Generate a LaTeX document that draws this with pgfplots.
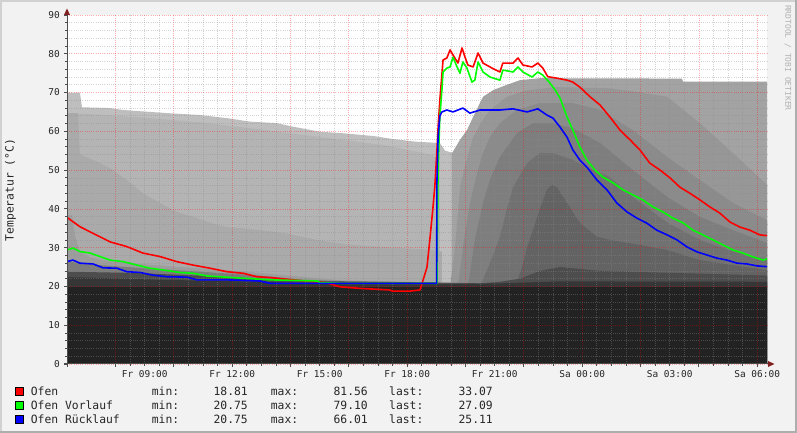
\documentclass[border=0pt]{standalone}
\usepackage{pgfplots}
\pgfplotsset{compat=1.18}
\usepackage{fontspec}
\setmainfont{DejaVu Sans Mono}

\definecolor{bgc}{HTML}{F2F2F2}
\definecolor{cA}{HTML}{BEBEBE}
\definecolor{cB}{HTML}{B4B4B4}
\definecolor{cC}{HTML}{AAAAAA}
\definecolor{cD}{HTML}{9D9D9D}
\definecolor{cD2}{HTML}{7D7D7D}
\definecolor{cE}{HTML}{4D4D4D}
\definecolor{cF}{HTML}{363636}
\definecolor{cG}{HTML}{222222}
\definecolor{r1}{HTML}{A3A3A3}
\definecolor{r2}{HTML}{979797}
\definecolor{r3}{HTML}{8B8B8B}
\definecolor{r4}{HTML}{7E7E7E}
\definecolor{r5}{HTML}{717171}
\definecolor{r6}{HTML}{636363}
\definecolor{arr}{HTML}{802020}
\definecolor{ofen}{HTML}{FF0000}
\definecolor{vorlauf}{HTML}{00FF00}
\definecolor{ruecklauf}{HTML}{0000FF}

\newcommand\tickfont{\fontsize{9.5}{11}\selectfont}
\newcommand\legfont{\fontsize{11.4}{13}\selectfont}
\newcommand\wmfont{\fontsize{8}{9}\selectfont}

\pgfplotsset{
  rrdframe/.style={
    at={(67bp,69bp)}, anchor=south west,
    scale only axis, width=700bp, height=349bp,
    xmin=6.337, xmax=30.337, ymin=0, ymax=90,
  },
}

\begin{document}
\begin{tikzpicture}
\begin{scope}[x=1bp,y=1bp]
\fill[bgc] (0,0) rectangle (797,433);
\useasboundingbox (0,0) rectangle (797,433);
\draw[line width=2bp, draw=black!18] (1,0) -- (1,432) -- (797,432);
\draw[line width=2bp, draw=black!32] (0,1) -- (796,1) -- (796,433);
\end{scope}

% areas, with the grid drawn over them
\begin{axis}[
    rrdframe,
    axis background/.style={fill=white},
    axis line style={draw=none},
    axis on top,
    tick pos=left, tick align=outside,
    major tick length=3bp, minor tick length=2bp,
    major tick style={line width=0.8bp, draw=black!70},
    minor tick style={line width=0.8bp, draw=black!70},
    xtick={8,10,...,30}, xticklabels={}, minor x tick num=3,
    extra x ticks={9,12,...,30},
    extra x tick labels={Fr 09:00,Fr 12:00,Fr 15:00,Fr 18:00,Fr 21:00,Sa 00:00,Sa 03:00,Sa 06:00},
    extra x tick style={grid=none, major tick length=0bp},
    ytick={0,10,...,90}, minor y tick num=4,
    grid=both,
    grid style={line width=0.7bp, dash pattern=on 1bp off 1.2bp},
    major grid style={draw=red, opacity=0.32},
    minor grid style={draw=black!45, opacity=0.38},
    /pgf/number format/assume math mode=true,
    tick label style={font=\tickfont, text=black!85},
    xticklabel style={anchor=north, inner sep=0pt, yshift=-6bp},
    yticklabel style={anchor=east, inner sep=0pt, xshift=-4bp},
]
\addplot[fill=cA, draw=none] coordinates {(6.34,70) (6.78,70) (6.85,66.2) (7.81,66) (8.26,65.5) (9.18,65) (9.97,64.6) (10.90,64.2) (11.82,63.4) (12.61,62.5) (13.54,62.1) (14.08,61.2) (15.01,59.9) (15.80,59.5) (16.83,58.8) (17.51,58.0) (18.34,57.3) (19.12,57.0) (19.30,55.0) (19.54,54.5) (19.64,54.5)} \closedcycle;
\addplot[fill=cB, draw=none] coordinates {(6.34,64.7) (7.47,64.3) (9.18,63.4) (10.90,62.3) (12.61,60.8) (14.91,58.6) (17.17,56.5) (18.88,53.9) (19.12,52.0)} \closedcycle;
\addplot[fill=cC, draw=none] coordinates {(6.34,64.7) (6.71,64.7) (6.78,54.0) (7.23,52.6) (7.81,50.5) (8.39,47.4) (8.94,44.0) (9.53,41.5) (10.11,39.2) (10.66,38.0) (11.24,36.4) (11.82,35.3) (12.37,35.0) (12.95,34.5) (13.74,33.8) (14.91,32.0) (16.04,30.7) (17.75,29.9) (18.88,29.4) (19.19,29.0)} \closedcycle;
\addplot[fill=cD, draw=none] coordinates {(6.34,38.4) (6.51,38.4) (6.61,33.0) (6.78,29.0) (7.13,27.5) (7.81,26.5) (8.84,25.8) (10.21,25.0) (11.58,24.3) (12.95,23.5) (14.33,22.5) (15.70,21.6) (19.12,21.0)} \closedcycle;
\addplot[fill=r1, draw=none] coordinates {(19.54,54.4) (19.81,57.8) (20.05,60.3) (20.26,63.7) (20.60,68.9) (20.94,70.6) (21.42,72.0) (21.87,73.2) (22.55,73.7) (27.42,73.6) (27.46,72.8) (30.34,72.8)} \closedcycle;
\addplot[fill=r2, draw=none] coordinates {(19.47,20) (19.64,30) (19.81,45.6) (20.05,53.0) (20.26,58.5) (20.60,63.0) (20.84,65.5) (21.42,68.9) (22.11,70.6) (23.14,71.4) (24.95,71.1) (25.74,70.3) (26.91,68.9) (28.04,62.1) (29.17,54.4) (30.34,46.2)} \closedcycle;
\addplot[fill=r3, draw=none] coordinates {(19.74,20) (19.91,30) (20.15,41.5) (20.39,49.0) (20.60,54.4) (20.84,58.5) (21.18,62.1) (21.76,65.5) (22.55,67.3) (23.68,67.3) (24.61,65.5) (25.74,60.3) (26.91,53.4) (28.04,47.4) (29.17,41.5) (30.34,37.1)} \closedcycle;
\addplot[fill=r4, draw=none] coordinates {(20.08,20) (20.32,32) (20.60,41.5) (20.84,47.5) (21.18,53.4) (21.76,59.5) (22.31,62.1) (23.00,62.1) (23.68,60.8) (24.61,57.0) (25.74,50.0) (26.91,43.1) (28.04,37.9) (29.17,34.5) (30.34,31.2)} \closedcycle;
\addplot[fill=r5, draw=none] coordinates {(20.50,20) (20.84,26) (21.18,32.8) (21.42,40) (21.63,45.6) (22.11,51.8) (22.55,54.4) (23.00,54.4) (23.68,52.6) (24.37,50.0) (24.95,48.2) (25.74,43.0) (26.91,36.5) (28.04,32.0) (29.17,29.0) (30.34,27.0)} \closedcycle;
\addplot[fill=r6, draw=none] coordinates {(21.70,20) (21.94,25) (22.11,30) (22.31,34.5) (22.55,40) (22.79,44.9) (22.96,46.2) (23.14,45.5) (23.48,41.5) (23.92,36.4) (24.51,32.8) (24.95,32.0) (25.74,31.0) (26.91,29.4) (28.04,26.8) (29.17,25.5) (30.34,24.2)} \closedcycle;
\addplot[fill=cD2, draw=none] coordinates {(6.34,26.5) (6.78,26.0) (7.47,25.5) (9.18,24.6) (10.90,23.8) (12.95,22.8) (14.33,21.8) (16.04,21.3) (19.12,21.0)} \closedcycle;
\addplot[fill=cE, draw=none] coordinates {(6.34,23.8) (8.50,23.5) (10.90,22.8) (12.95,22.0) (14.33,21.4) (19.12,21.0) (20.50,20.8) (21.18,21.2) (21.87,22.0) (22.55,24.0) (23.24,25.0) (24.61,24.0) (28.04,23.3) (30.34,22.8)} \closedcycle;
\addplot[fill=cF, draw=none] coordinates {(6.34,22.4) (7.47,22.2) (9.18,21.8) (10.90,21.5) (12.95,21.2) (14.33,20.9) (19.12,20.6) (21.18,20.8) (23.24,21.3) (30.34,21.2)} \closedcycle;
\addplot[fill=cG, draw=none] coordinates {(6.34,19.9) (30.34,19.9)} \closedcycle;
\end{axis}

% the three temperature lines, above the grid
\begin{axis}[rrdframe, hide axis]
% Ofen
\addplot[draw=ofen, line width=1.6bp, line join=round] coordinates {(6.34,37.8) (6.78,35.4) (7.23,33.7) (7.81,31.5) (8.38,30.3) (8.94,28.6) (9.53,27.7) (10.10,26.4) (10.66,25.5) (11.24,24.7) (11.82,23.8) (12.37,23.4) (12.85,22.5) (13.30,22.3) (14.08,21.7) (14.50,21.4) (15.20,21.0) (15.70,19.9) (16.38,19.5) (17.38,19.1) (17.51,18.8) (18.10,18.8) (18.44,19.1) (18.54,21.5) (18.68,25) (18.78,32.3) (18.88,40) (18.95,46) (19.02,55) (19.06,61) (19.12,68) (19.23,78.4) (19.36,78.9) (19.47,81.0) (19.57,79.7) (19.74,77.6) (19.88,81.5) (19.98,79.2) (20.08,77.1) (20.26,76.6) (20.43,80.2) (20.60,77.6) (20.91,76.3) (21.18,75.3) (21.28,77.6) (21.63,77.6) (21.80,78.9) (21.97,77.1) (22.28,76.6) (22.48,77.6) (22.65,76.3) (22.82,74.1) (23.14,73.7) (23.48,73.2) (23.68,72.7) (23.92,71.4) (24.27,68.9) (24.61,66.8) (24.95,63.7) (25.30,60.3) (25.64,57.8) (25.98,55.2) (26.32,51.8) (26.67,50.0) (27.01,48.0) (27.35,45.6) (27.70,44.0) (28.04,42.3) (28.38,40.5) (28.72,38.9) (29.07,36.6) (29.41,35.3) (29.75,34.5) (30.09,33.3) (30.34,33.1)};
% Ofen Vorlauf
\addplot[draw=vorlauf, line width=1.6bp, line join=round] coordinates {(6.34,29.4) (6.54,29.9) (6.78,29.0) (7.13,28.6) (7.47,27.7) (7.81,26.8) (8.26,26.4) (8.74,25.5) (9.18,24.7) (9.77,24.1) (10.21,23.6) (10.66,23.4) (11.14,22.7) (11.58,22.5) (12.17,22.2) (12.61,22.0) (13.30,21.7) (14.91,21.4) (15.01,21.0) (15.70,20.8) (19.02,20.8) (19.06,50) (19.12,63.7) (19.19,70.6) (19.23,75.3) (19.36,76.3) (19.47,76.6) (19.57,79.1) (19.71,76.6) (19.81,75.0) (19.91,77.9) (20.05,76.3) (20.22,72.7) (20.32,73.2) (20.43,77.9) (20.60,75.3) (20.84,74.0) (21.18,73.2) (21.28,75.8) (21.63,75.3) (21.80,76.6) (21.97,75.3) (22.28,74.0) (22.48,75.3) (22.65,74.5) (22.89,72.5) (23.07,70.7) (23.24,68.6) (23.48,63.7) (23.68,60.3) (23.92,56.0) (24.16,52.6) (24.44,50.0) (24.71,48.2) (25.06,46.7) (25.40,44.9) (25.74,43.6) (26.08,42.3) (26.43,40.5) (26.77,39.2) (27.11,37.6) (27.46,36.4) (27.80,34.5) (28.14,33.3) (28.48,32.0) (28.83,30.7) (29.17,29.4) (29.51,28.6) (29.86,27.6) (30.20,26.8) (30.34,27.1)};
% Ofen Ruecklauf
\addplot[draw=ruecklauf, line width=1.6bp, line join=round] coordinates {(6.34,26.4) (6.54,26.8) (6.78,26.0) (7.23,25.8) (7.57,24.8) (8.05,24.7) (8.39,23.8) (8.84,23.6) (9.29,22.9) (9.77,22.5) (10.45,22.4) (10.79,21.7) (11.82,21.7) (12.95,21.4) (13.30,20.8) (19.01,20.8) (19.02,47) (19.06,58.5) (19.12,64.0) (19.19,65.0) (19.36,65.5) (19.57,65.0) (19.91,66.0) (20.15,64.7) (20.50,65.5) (21.18,65.5) (21.63,65.8) (22.11,65.0) (22.48,65.8) (22.79,64.2) (23.00,63.4) (23.24,61.1) (23.48,58.5) (23.68,55.2) (23.92,52.6) (24.16,50.8) (24.51,47.4) (24.85,44.9) (25.19,41.5) (25.54,39.2) (25.88,37.6) (26.22,36.3) (26.56,34.5) (26.91,33.3) (27.25,32.0) (27.59,30.2) (27.94,28.9) (28.28,28.1) (28.62,27.3) (28.96,26.8) (29.31,26.0) (29.65,25.8) (29.99,25.3) (30.34,25.1)};
\end{axis}

\begin{scope}[x=1bp,y=1bp]
% axis lines and arrow heads
\draw[line width=1bp, draw=black!70] (67,66) -- (67,419);
\draw[line width=1bp, draw=black!70] (64,69) -- (768,69);
\fill[arr] (64,418) -- (70,418) -- (67,424.5) -- cycle;
\fill[arr] (768,66) -- (768,72) -- (774.5,69) -- cycle;

\node[rotate=90, font=\legfont, text=black!85] at (10.5,243) {Temperatur (°C)};
\node[rotate=-90, anchor=west, font=\wmfont, text=black!30, inner sep=0pt] at (788,428) {RRDTOOL / TOBI OETIKER};

% legend
\begin{scope}[every node/.style={font=\legfont, text=black!85, inner sep=0pt}]
\filldraw[fill=ofen, draw=black, line width=0.8bp] (15.5,37.8) rectangle (23.5,45.8);
\filldraw[fill=vorlauf, draw=black, line width=0.8bp] (15.5,23.8) rectangle (23.5,31.8);
\filldraw[fill=ruecklauf, draw=black, line width=0.8bp] (15.5,9.8) rectangle (23.5,17.8);
\node[anchor=base west] at (30.7,37.7) {Ofen};
\node[anchor=base west] at (30.7,23.7) {Ofen Vorlauf};
\node[anchor=base west] at (30.7,9.7) {Ofen Rücklauf};
\node[anchor=base west] at (151.7,37.7) {min:};
\node[anchor=base west] at (151.7,23.7) {min:};
\node[anchor=base west] at (151.7,9.7) {min:};
\node[anchor=base east] at (248,37.7) {18.81};
\node[anchor=base east] at (248,23.7) {20.75};
\node[anchor=base east] at (248,9.7) {20.75};
\node[anchor=base west] at (270.7,37.7) {max:};
\node[anchor=base west] at (270.7,23.7) {max:};
\node[anchor=base west] at (270.7,9.7) {max:};
\node[anchor=base east] at (368,37.7) {81.56};
\node[anchor=base east] at (368,23.7) {79.10};
\node[anchor=base east] at (368,9.7) {66.01};
\node[anchor=base west] at (389,37.7) {last:};
\node[anchor=base west] at (389,23.7) {last:};
\node[anchor=base west] at (389,9.7) {last:};
\node[anchor=base east] at (493,37.7) {33.07};
\node[anchor=base east] at (493,23.7) {27.09};
\node[anchor=base east] at (493,9.7) {25.11};
\end{scope}
\end{scope}
\end{tikzpicture}
\end{document}
